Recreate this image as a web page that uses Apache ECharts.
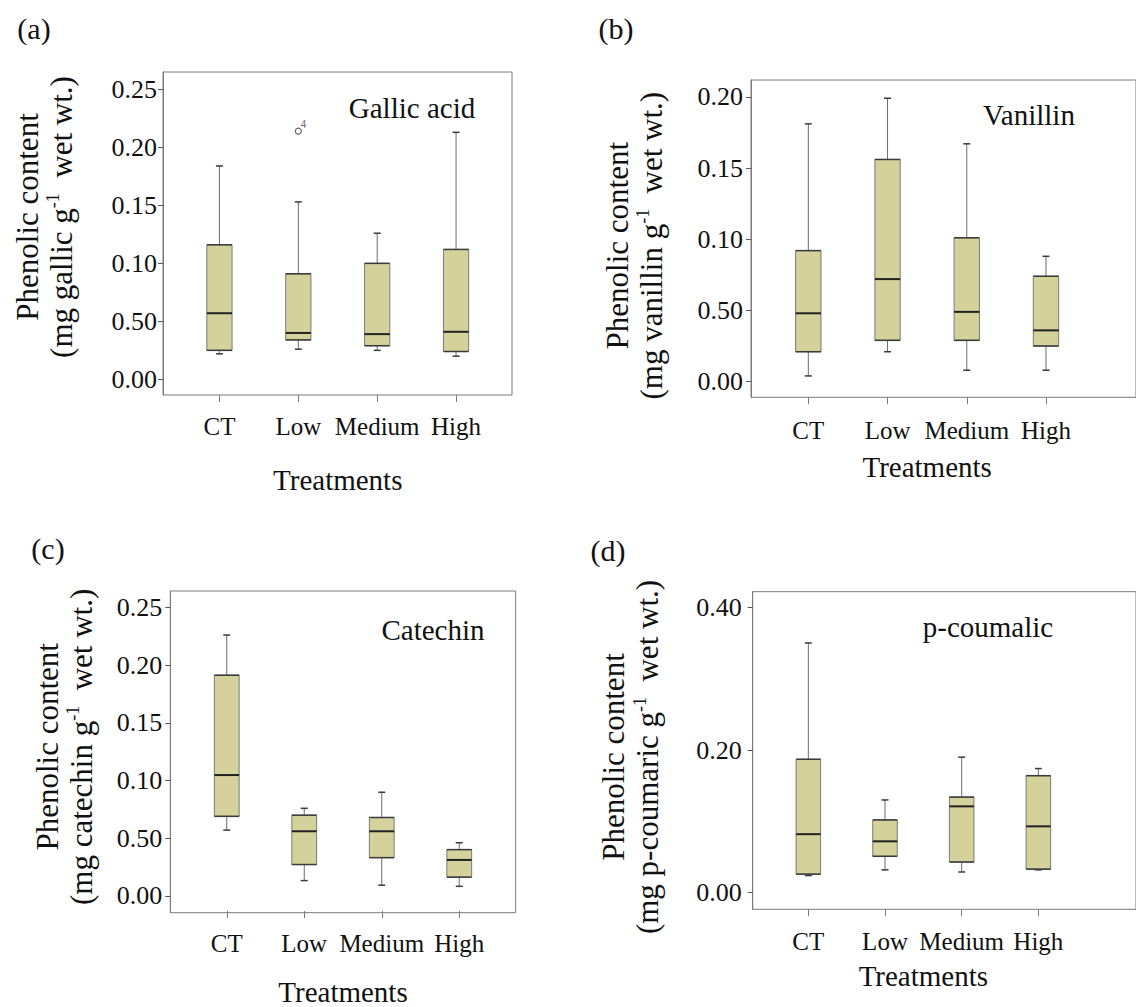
<!DOCTYPE html>
<html>
<head>
<meta charset="utf-8">
<title>Phenolic content by treatment</title>
<script src="https://cdn.jsdelivr.net/npm/echarts@6/dist/echarts.min.js"></script>
<style>
  html, body { margin: 0; padding: 0; background: #fff; }
  #main { width: 1136px; height: 1007px; }
</style>
</head>
<body>
<div id="main"></div>
<script>
(function () {
    'use strict';

    var categories = ['CT', 'Low', 'Medium', 'High'];

    // 每个处理: [最小, Q1, 中位数, Q3, 最大]
    var gallicAcid = [
        [0.022, 0.025, 0.057, 0.116, 0.184],
        [0.026, 0.034, 0.040, 0.091, 0.153],
        [0.025, 0.029, 0.039, 0.100, 0.126],
        [0.020, 0.024, 0.041, 0.112, 0.213]
    ];
    var gallicOutliers = [[1, 0.214]];
    var gallicOutlierLabels = ['4'];

    var vanillin = [
        [0.004, 0.021, 0.048, 0.092, 0.181],
        [0.021, 0.029, 0.072, 0.156, 0.199],
        [0.008, 0.029, 0.049, 0.101, 0.167],
        [0.008, 0.025, 0.036, 0.074, 0.088]
    ];

    var catechin = [
        [0.056, 0.068, 0.104, 0.191, 0.226],
        [0.012, 0.026, 0.055, 0.069, 0.075],
        [0.008, 0.032, 0.055, 0.067, 0.089],
        [0.007, 0.015, 0.030, 0.039, 0.045]
    ];

    var pCoumaric = [
        [0.024, 0.026, 0.082, 0.187, 0.350],
        [0.032, 0.051, 0.072, 0.102, 0.130],
        [0.029, 0.043, 0.121, 0.134, 0.190],
        [0.032, 0.033, 0.093, 0.164, 0.174]
    ];

    // 刻度位置和原图上的刻度文字
    var gallicTicks = [0, 0.05, 0.10, 0.15, 0.20, 0.25];
    var gallicTickText = ['0.00', '0.50', '0.10', '0.15', '0.20', '0.25'];
    var vanillinTicks = [0, 0.05, 0.10, 0.15, 0.20];
    var vanillinTickText = ['0.00', '0.50', '0.10', '0.15', '0.20'];
    var catechinTicks = [0, 0.05, 0.10, 0.15, 0.20, 0.25];
    var catechinTickText = ['0.00', '0.50', '0.10', '0.15', '0.20', '0.25'];
    var coumaricTicks = [0, 0.20, 0.40];
    var coumaricTickText = ['0.00', '0.20', '0.40'];

    var FONT = 'Liberation Serif';

    var panels = [
        {
            tag: '(a)', tagPos: [34, 28], title: 'Gallic acid', titlePos: [412, 108],
            unit: 'gallic', data: gallicAcid, ticks: gallicTicks, tickText: gallicTickText,
            frame: [163, 72, 512, 395], inner: [180, 495.5], min: -0.0135, max: 0.265,
            nameGap: 85, namePad: [0, 0, 0, 33], xNameGap: 70, labelMargin: 19, yLabelMargin: 6
        },
        {
            tag: '(b)', tagPos: [616, 28], title: 'Vanillin', titlePos: [1029, 115],
            unit: 'vanillin', data: vanillin, ticks: vanillinTicks, tickText: vanillinTickText,
            frame: [751, 80, 1140, 397.3], inner: [768.7, 1085.6], min: -0.011, max: 0.2118,
            nameGap: 83, namePad: [0, 14, 0, 0], xNameGap: 55, labelMargin: 21, yLabelMargin: 8
        },
        {
            tag: '(c)', tagPos: [48, 548], title: 'Catechin', titlePos: [433, 630],
            unit: 'catechin', data: catechin, ticks: catechinTicks, tickText: catechinTickText,
            frame: [170.3, 591, 515.7, 912.7], inner: [188, 498], min: -0.0145, max: 0.2644,
            nameGap: 72, namePad: [0, 0, 0, 10], xNameGap: 66, labelMargin: 20, yLabelMargin: 8
        },
        {
            tag: '(d)', tagPos: [608, 550], title: 'p-coumalic', titlePos: [988, 627],
            unit: 'p-coumaric', data: pCoumaric, ticks: coumaricTicks, tickText: coumaricTickText,
            frame: [752.7, 591.7, 1140, 909.3], inner: [770, 1076.7], min: -0.0233, max: 0.4219,
            nameGap: 88, namePad: [0, 13, 0, 0], xNameGap: 52, labelMargin: 20, yLabelMargin: 11
        }
    ];

    function boxItem(params, api) {
        var i = api.value(0);
        var lo = api.coord([i, api.value(1)]);
        var q1 = api.coord([i, api.value(2)]);
        var md = api.coord([i, api.value(3)]);
        var q3 = api.coord([i, api.value(4)]);
        var hi = api.coord([i, api.value(5)]);
        var cx = lo[0];
        var hw = api.size([1, 0])[0] * 0.16;
        var cw = 3.5;
        var thin = { stroke: '#6b6b6b', lineWidth: 1 };
        var dark = { stroke: '#3a3a3a', lineWidth: 1.5 };
        function seg(x1, y1, x2, y2, st) {
            return { type: 'line', shape: { x1: x1, y1: y1, x2: x2, y2: y2 }, style: st };
        }
        return {
            type: 'group',
            children: [
                seg(cx, q3[1], cx, hi[1], thin),
                seg(cx - cw, hi[1], cx + cw, hi[1], dark),
                seg(cx, q1[1], cx, lo[1], thin),
                seg(cx - cw, lo[1], cx + cw, lo[1], dark),
                {
                    type: 'rect',
                    shape: { x: cx - hw, y: q3[1], width: hw * 2, height: q1[1] - q3[1] },
                    style: { fill: '#d4d19b', stroke: '#7a7a7a', lineWidth: 1 }
                },
                seg(cx - hw, q3[1], cx + hw, q3[1], dark),
                seg(cx - hw, q1[1], cx + hw, q1[1], dark),
                seg(cx - hw, md[1], cx + hw, md[1], { stroke: '#222', lineWidth: 2 })
            ]
        };
    }

    var grid = [], xAxis = [], yAxis = [], series = [], graphic = [];

    panels.forEach(function (p, k) {
        var f = p.frame;
        var gOuter = k * 2, gInner = k * 2 + 1;
        var ticks = p.ticks, tickText = p.tickText;

        // 外框
        grid.push({
            left: f[0], top: f[1], width: f[2] - f[0], height: f[3] - f[1],
            show: true, borderColor: '#7a7a7a', borderWidth: 1, backgroundColor: 'transparent'
        });
        // 箱线所在区域
        grid.push({
            left: p.inner[0], top: f[1], width: p.inner[1] - p.inner[0], height: f[3] - f[1],
            show: false
        });

        xAxis.push({ gridIndex: gOuter, type: 'value', min: 0, max: 1, show: false });
        xAxis.push({
            gridIndex: gInner,
            type: 'category',
            position: 'bottom',
            data: categories,
            axisLine: { show: false, onZero: false },
            axisTick: { show: true, interval: 0, alignWithLabel: true, length: 7, lineStyle: { color: '#7a7a7a' } },
            axisLabel: { interval: 0, margin: p.labelMargin, fontSize: 25, fontFamily: FONT, color: '#111' },
            splitLine: { show: false },
            name: 'Treatments',
            nameLocation: 'middle',
            nameGap: p.xNameGap,
            nameTextStyle: { fontSize: 29, fontFamily: FONT, color: '#111' }
        });

        yAxis.push({
            gridIndex: gOuter,
            type: 'value',
            min: p.min,
            max: p.max,
            axisLine: { show: true, onZero: false, lineStyle: { color: '#7a7a7a' } },
            axisTick: { show: true, length: 5, customValues: ticks, lineStyle: { color: '#555' } },
            axisLabel: {
                customValues: ticks,
                margin: p.yLabelMargin,
                fontSize: 26,
                fontFamily: FONT,
                color: '#111',
                formatter: function (v) {
                    for (var j = 0; j < ticks.length; j++) {
                        if (Math.abs(ticks[j] - v) < 1e-9) { return tickText[j]; }
                    }
                    return '';
                }
            },
            splitLine: { show: false },
            name: '{t|Phenolic content}\n{t|(mg ' + p.unit + ' g}{s|-1}{t|  wet wt.)}',
            nameLocation: 'middle',
            nameRotate: 90,
            nameGap: p.nameGap,
            nameTextStyle: {
                padding: p.namePad,
                fontFamily: FONT,
                rich: {
                    t: { fontSize: 31, fontFamily: FONT, color: '#111', lineHeight: 34 },
                    s: { fontSize: 18, fontFamily: FONT, color: '#111', verticalAlign: 'top', lineHeight: 34 }
                }
            }
        });
        yAxis.push({ gridIndex: gInner, type: 'value', min: p.min, max: p.max, show: false });

        series.push({
            type: 'custom',
            name: p.title,
            xAxisIndex: gInner,
            yAxisIndex: gInner,
            renderItem: boxItem,
            encode: { x: 0, y: [1, 2, 3, 4, 5] },
            data: p.data.map(function (d, i) { return [i].concat(d); }),
            z: 3
        });

        graphic.push({
            type: 'text', x: p.tagPos[0], y: p.tagPos[1],
            style: { text: p.tag, fontSize: 30, fontFamily: FONT, fill: '#111', textAlign: 'center', textVerticalAlign: 'middle' }
        });
        graphic.push({
            type: 'text', x: p.titlePos[0], y: p.titlePos[1],
            style: { text: p.title, fontSize: 29, fontFamily: FONT, fill: '#111', textAlign: 'center', textVerticalAlign: 'middle' }
        });
    });

    // 异常值 (Gallic acid, Low)
    series.push({
        type: 'scatter',
        xAxisIndex: 1,
        yAxisIndex: 1,
        symbol: 'circle',
        symbolSize: 6,
        itemStyle: { color: '#fff', borderColor: '#444', borderWidth: 1.2 },
        label: {
            show: true,
            position: [6, -8],
            fontSize: 10,
            fontFamily: 'Liberation Sans',
            color: '#444',
            formatter: function (pr) { return gallicOutlierLabels[pr.dataIndex]; }
        },
        data: gallicOutliers,
        z: 4
    });

    var myChart = echarts.init(document.getElementById('main'), null, { renderer: 'svg' });
    myChart.setOption({
        backgroundColor: '#fff',
        animation: false,
        textStyle: { fontFamily: FONT },
        grid: grid,
        xAxis: xAxis,
        yAxis: yAxis,
        series: series,
        graphic: graphic
    });
    window.addEventListener('resize', function () {
        myChart.resize();
    });
})();
</script>
</body>
</html>
